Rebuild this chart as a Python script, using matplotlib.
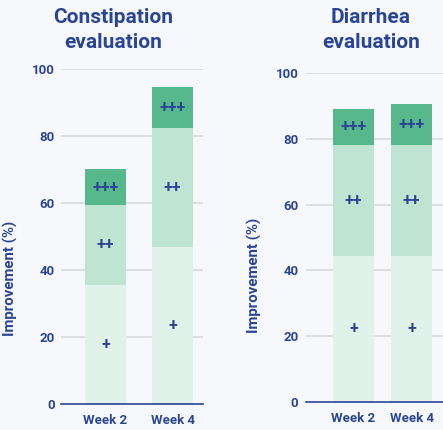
import matplotlib
matplotlib.use("Agg")
import matplotlib.pyplot as plt
import numpy as np

plt.rcParams['font.family'] = ['Roboto', 'DejaVu Sans']

weeks = ["Week 2", "Week 4"]
yticks = [0, 20, 40, 60, 80, 100]
levels = ["+", "++", "+++"]

# segment heights (+, ++, +++) per week
constipation = {"+": [35.5, 47.0], "++": [24.0, 35.5], "+++": [10.5, 12.0]}
diarrhea = {"+": [44.4, 44.4], "++": [33.7, 33.7], "+++": [11.0, 12.5]}

titles = ["Constipation\nevaluation", "Diarrhea\nevaluation"]
ylabel = "Improvement (%)"

BLUE = "#2b4596"
BG = "#f6f8fb"
colors = {"+": "#e1f2ea", "++": "#bde5d1", "+++": "#57b98b"}

fig = plt.figure(figsize=(4.43, 4.30), dpi=100, facecolor=BG)

W, H = 443, 430
specs = [
    dict(data=constipation, rect=(61 / W, 1 - 404 / H, 142 / W, 335 / H),
         xlim=(-0.664, 1.455), width=0.61, title_x=113 / W,
         ylab=(-0.303, 0.376), pad=4.3),
    dict(data=diarrhea, rect=(306 / W, 1 - 402 / H, 137 / W, 329 / H),
         xlim=(-0.819, 1.543), width=0.707, title_x=371 / W,
         ylab=(-0.32, 0.386), pad=5.5),
]

for spec, title in zip(specs, titles):
    ax = fig.add_axes(spec["rect"])
    ax.set_facecolor("none")
    x = np.arange(len(weeks))
    bottom = np.zeros(len(weeks))
    for lv in levels:
        vals = np.array(spec["data"][lv])
        ax.bar(x, vals, bottom=bottom, width=spec["width"], color=colors[lv],
               zorder=2, linewidth=0)
        for xi, b, v in zip(x, bottom, vals):
            ax.text(xi, b + v / 2, lv, ha="center", va="center", color=BLUE,
                    fontsize=11.5, fontweight="bold", zorder=3)
        bottom = bottom + vals
    ax.set_xlim(*spec["xlim"])
    ax.set_ylim(0, 100)
    ax.set_yticks(yticks)
    ax.set_xticks(x)
    ax.set_xticklabels(weeks)
    ax.tick_params(length=0, labelcolor=BLUE, labelsize=9.5)
    ax.tick_params(axis="y", pad=spec["pad"])
    ax.tick_params(axis="x", pad=7)
    for lab in ax.get_xticklabels() + ax.get_yticklabels():
        lab.set_fontweight("bold")
    for s in ["top", "right", "left"]:
        ax.spines[s].set_visible(False)
    ax.spines["bottom"].set_color(BLUE)
    ax.spines["bottom"].set_linewidth(1.2)
    ax.spines["bottom"].set_zorder(4)
    for t in yticks[1:]:
        ax.axhline(t, color="#dddee2", linewidth=1.4, zorder=1)
    ax.set_ylabel(ylabel, color=BLUE, fontsize=10.8, fontweight="bold")
    ax.yaxis.set_label_coords(*spec["ylab"])
    fig.text(spec["title_x"], 1 - 8 / H, title, ha="center", va="top",
             multialignment="center", color=BLUE, fontsize=15,
             fontweight="bold", linespacing=1.42)

fig.savefig("out.png", dpi=100, facecolor=BG)
